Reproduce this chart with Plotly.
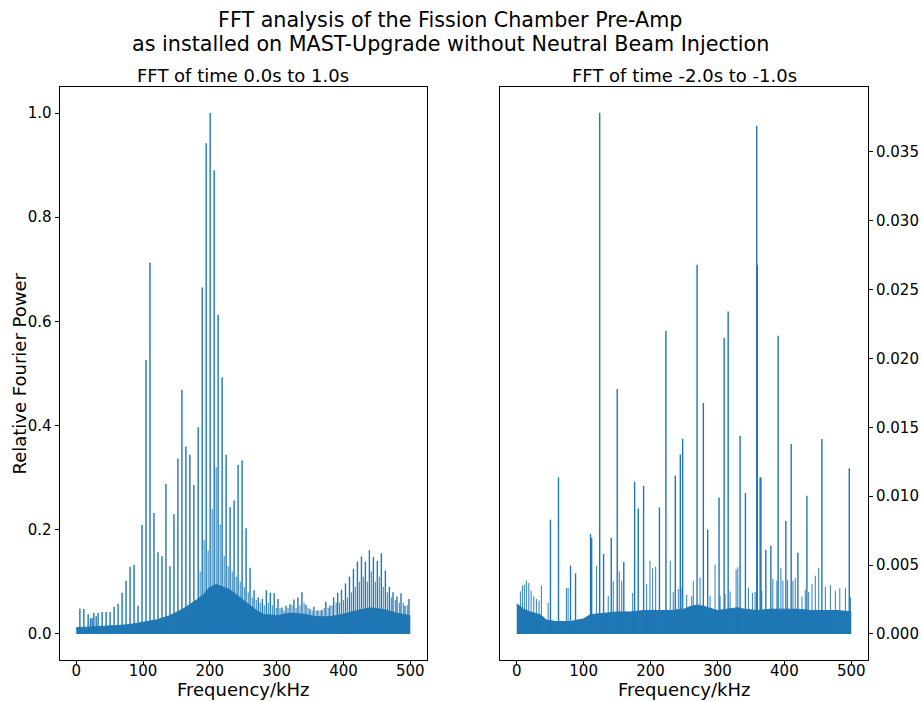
import plotly.graph_objects as go

# ---------------- data ----------------
# Left panel: FFT of time 0.0s to 1.0s  (relative power)
left_peak_khz = [5.5, 11.4, 17.9, 21.4, 23.9, 26.4, 29.9, 32.8, 38.8, 44.8, 50.7, 56.7,
                 62.7, 68.7, 74.6, 80.6, 86.6, 92.5, 98.5, 104.5, 110.4, 116.4, 122.4,
                 128.4, 134.3, 140.3, 146.3, 152.2, 158.2, 164.2, 170.1, 176.1, 182.6,
                 188.6, 194.5, 200.5, 206.5, 212.4, 218.4, 224.4, 230.3, 236.3, 242.3,
                 248.3, 254.2, 260.2, 266.2, 272.6, 278.6, 284.6, 290.5, 296.3, 302.0,
                 308.0, 313.9, 319.9, 325.9, 331.8, 337.8, 343.8, 349.8, 355.7, 361.7,
                 367.7, 373.6, 379.6, 385.3, 391.3, 397.0, 403.0, 409.0, 414.9, 420.9,
                 426.9, 432.8, 438.8, 444.8, 450.7, 456.7, 462.7, 468.7, 474.1, 480.1,
                 486.1, 492.0, 498.0]
left_peak_val = [0.049, 0.048, 0.038, 0.030, 0.030, 0.040, 0.034, 0.040, 0.042, 0.042,
                 0.042, 0.052, 0.058, 0.079, 0.102, 0.129, 0.133, 0.054, 0.209, 0.526,
                 0.713, 0.232, 0.157, 0.149, 0.288, 0.130, 0.230, 0.337, 0.469, 0.360,
                 0.344, 0.286, 0.397, 0.665, 0.942, 1.000, 0.890, 0.613, 0.493, 0.344,
                 0.243, 0.256, 0.325, 0.333, 0.203, 0.127, 0.084, 0.070, 0.067, 0.084,
                 0.079, 0.078, 0.067, 0.051, 0.054, 0.057, 0.066, 0.070, 0.080, 0.056,
                 0.048, 0.052, 0.045, 0.046, 0.062, 0.054, 0.070, 0.079, 0.085, 0.097,
                 0.110, 0.125, 0.139, 0.149, 0.139, 0.161, 0.148, 0.140, 0.155, 0.122,
                 0.090, 0.080, 0.072, 0.078, 0.054, 0.067]
left_minor_khz = [185.5, 191.5, 197.5, 203.5, 209.5, 215.5, 221.5, 227.5, 233.5, 239.5,
                  245.5, 251.5, 257.5, 263.5, 269.5, 275.5, 281.5, 287.5, 293.5, 299.5,
                  305.0, 311.0, 317.0, 323.0, 329.0, 335.0, 341.0, 347.0, 353.0, 359.0,
                  365.0, 371.0, 377.0, 383.0, 389.0, 394.0, 400.0,
                  405.9, 411.9, 417.8, 423.8, 429.8, 435.7, 441.7, 447.7, 453.7, 459.6,
                  465.7, 471.6, 477.6, 483.6, 489.5, 495.5]
left_minor_val = [0.12, 0.18, 0.16, 0.24, 0.32, 0.21, 0.15, 0.13, 0.12, 0.11,
                  0.10, 0.09, 0.08, 0.07, 0.065, 0.06, 0.055, 0.06, 0.055, 0.05,
                  0.05, 0.045, 0.05, 0.055, 0.05, 0.055, 0.06, 0.05, 0.045, 0.045,
                  0.045, 0.05, 0.05, 0.055, 0.06, 0.06, 0.065,
                  0.07, 0.08, 0.09, 0.10, 0.11, 0.10, 0.12, 0.10, 0.11, 0.09,
                  0.08, 0.07, 0.065, 0.06, 0.06, 0.055]
left_band_khz = [0, 20, 40, 60, 80, 100, 120, 140, 160, 180, 190, 200, 210, 220, 230,
                 240, 250, 260, 270, 280, 300, 320, 340, 360, 380, 400, 420, 440, 460,
                 480, 500]
left_band_val = [0.012, 0.013, 0.014, 0.016, 0.018, 0.022, 0.027, 0.035, 0.048, 0.065,
                 0.075, 0.090, 0.095, 0.090, 0.085, 0.075, 0.065, 0.055, 0.045, 0.038,
                 0.035, 0.040, 0.038, 0.033, 0.033, 0.038, 0.045, 0.050, 0.047, 0.040,
                 0.035]

# Right panel: FFT of time -2.0s to -1.0s
right_peak_khz = [50.4, 62.4, 80.4, 87.9, 110.3, 112.0, 124.0, 129.8, 141.3, 150.2, 160.0,
                  176.2, 181.6, 189.6, 213.3, 223.0, 237.0, 244.5, 248.0, 269.5, 278.9,
                  285.4, 302.4, 310.0, 316.0, 333.8, 341.8, 358.7, 359.5, 363.8, 365.0,
                  372.3, 379.8, 390.7, 402.2, 410.2, 420.2, 433.7, 456.1, 497.0]
right_peak_val = [0.00829, 0.01136, 0.00496, 0.00440, 0.00726, 0.00697, 0.03783, 0.00580,
                  0.00697, 0.01778, 0.00522, 0.01105, 0.00911, 0.01074, 0.00919, 0.02201,
                  0.01151, 0.01303, 0.01417, 0.02680, 0.01676, 0.00757, 0.00991, 0.02148,
                  0.02341, 0.01439, 0.01023, 0.03689, 0.02680, 0.01136, 0.01136, 0.00612,
                  0.00640, 0.02165, 0.00820, 0.01379, 0.00590, 0.01004, 0.01415, 0.01202]
right_minor_khz = [5.5, 8.5, 11.5, 14.5, 18.0, 21.5, 25.4, 29.4, 33.4, 36.9, 46.9, 74.3,
                   76.8, 119.3, 136.8, 144.3, 153.3, 156.8, 173.3, 194.1, 199.1, 203.1,
                   207.6, 229.5, 234.0, 241.5, 247.0, 254.0, 261.5, 264.0, 274.0, 289.0,
                   296.4, 303.9, 311.4, 318.9, 327.9, 330.4, 346.3, 352.3, 356.3, 366.3,
                   382.8, 388.8, 394.8, 397.8, 404.8, 412.8, 416.3, 426.3, 431.3, 436.3,
                   441.3, 446.3, 451.3, 461.3, 468.8, 476.3, 482.8, 491.3, 498.8]
right_minor_val = [0.00309, 0.00351, 0.00358, 0.00387, 0.00370, 0.00314, 0.00271, 0.00254,
                   0.00242, 0.00351, 0.00225, 0.00333, 0.00333, 0.00496, 0.00278, 0.00387,
                   0.00455, 0.00387, 0.00297, 0.00363, 0.00532, 0.00479, 0.00489, 0.00532,
                   0.00302, 0.00326, 0.00333, 0.00283, 0.00278, 0.00387, 0.00411, 0.00278,
                   0.00505, 0.00278, 0.00290, 0.00309, 0.00467, 0.00484, 0.00338, 0.00297,
                   0.00304, 0.00314, 0.00399, 0.00387, 0.00481, 0.00387, 0.00392, 0.00387,
                   0.00404, 0.00271, 0.00321, 0.00304, 0.00363, 0.00423, 0.00481, 0.00343,
                   0.00355, 0.00314, 0.00331, 0.00331, 0.00266]
right_band_khz = [0, 10, 20, 35, 45, 60, 80, 100, 110, 130, 150, 170, 190, 210, 230, 250,
                  260, 270, 280, 300, 320, 330, 340, 360, 380, 400, 420, 440, 460, 480, 500]
right_band_val = [0.0022, 0.0018, 0.0016, 0.0014, 0.0010, 0.0009, 0.0009, 0.0011, 0.0014,
                  0.0015, 0.0016, 0.0016, 0.0017, 0.0017, 0.0017, 0.0018, 0.0020, 0.0021,
                  0.0020, 0.0017, 0.0018, 0.0019, 0.0018, 0.0017, 0.0018, 0.0018, 0.0018,
                  0.0017, 0.0017, 0.0017, 0.0016]

x_ticks = [0, 100, 200, 300, 400, 500]
left_y_ticks = [0.0, 0.2, 0.4, 0.6, 0.8, 1.0]
right_y_ticks = [0.000, 0.005, 0.010, 0.015, 0.020, 0.025, 0.030, 0.035]

# ---------------- figure ----------------
BLUE = "#1f77b4"
FONT = "DejaVu Sans"
W, H = 921, 702


def stems(freqs, vals):
    xs, ys = [], []
    for f, v in zip(freqs, vals):
        xs += [f, f, None]
        ys += [0, v, None]
    return xs, ys


fig = go.Figure()
for suffix, bf, bv, mf, mv, pf, pv in [
    ("", left_band_khz, left_band_val, left_minor_khz, left_minor_val, left_peak_khz, left_peak_val),
    ("2", right_band_khz, right_band_val, right_minor_khz, right_minor_val, right_peak_khz, right_peak_val),
]:
    xa, ya = "x" + suffix, "y" + suffix
    fig.add_trace(go.Scatter(x=bf, y=bv, mode="lines", fill="tozeroy", fillcolor=BLUE,
                             line=dict(color=BLUE, width=1), xaxis=xa, yaxis=ya,
                             showlegend=False, hoverinfo="skip"))
    mx, my = stems(mf, mv)
    fig.add_trace(go.Scatter(x=mx, y=my, mode="lines", line=dict(color=BLUE, width=1.1),
                             opacity=0.85, xaxis=xa, yaxis=ya, showlegend=False,
                             hoverinfo="skip"))
    px_, py_ = stems(pf, pv)
    fig.add_trace(go.Scatter(x=px_, y=py_, mode="lines", line=dict(color=BLUE, width=1.4),
                             xaxis=xa, yaxis=ya, showlegend=False, hoverinfo="skip"))

axis_common = dict(showline=True, linecolor="black", linewidth=1, mirror=True,
                   ticks="outside", ticklen=4, tickwidth=1, tickcolor="black",
                   showgrid=False, zeroline=False,
                   tickfont=dict(family=FONT, size=15, color="black"))

top_px, bot_px = 87, 660
ydom = [(H - bot_px) / H, (H - top_px) / H]

fig.update_layout(
    width=W, height=H,
    margin=dict(l=0, r=0, t=0, b=0),
    paper_bgcolor="white", plot_bgcolor="white",
    font=dict(family=FONT, color="black"),
    xaxis=dict(domain=[59.5 / W, 427 / W], range=[-25, 525], anchor="y",
               tickvals=x_ticks, ticktext=[str(v) for v in x_ticks],
               ticklabelstandoff=-7, **axis_common),
    yaxis=dict(domain=ydom, range=[-0.05, 1.05], anchor="x",
               tickvals=left_y_ticks, ticktext=[f"{v:.1f}" for v in left_y_ticks],
               **axis_common),
    xaxis2=dict(domain=[500 / W, 868 / W], range=[-25, 525], anchor="y2",
                tickvals=x_ticks, ticktext=[str(v) for v in x_ticks],
                ticklabelstandoff=-7, **axis_common),
    yaxis2=dict(domain=ydom, range=[-0.00189, 0.0397], anchor="x2", side="right",
                tickvals=right_y_ticks, ticktext=[f"{v:.3f}" for v in right_y_ticks],
                **axis_common),
)


def ann(text, xpx, ypx, size, angle=0):
    fig.add_annotation(text=text, x=xpx / W, y=1 - ypx / H, xref="paper", yref="paper",
                       showarrow=False, xanchor="center", yanchor="middle",
                       textangle=angle, font=dict(family=FONT, size=size, color="black"))


ann("FFT analysis of the Fission Chamber Pre-Amp", 450, 20, 20.7)
ann("as installed on MAST-Upgrade without Neutral Beam Injection", 450, 44, 20.7)
ann("FFT of time 0.0s to 1.0s", 243, 76, 18)
ann("FFT of time -2.0s to -1.0s", 684, 76, 18)
ann("Relative Fourier Power", 19, 373.5, 18, -90)
ann("Frequency/kHz", 243, 689, 18)
ann("Frequency/kHz", 684, 689, 18)

fig.write_html("out.html")
